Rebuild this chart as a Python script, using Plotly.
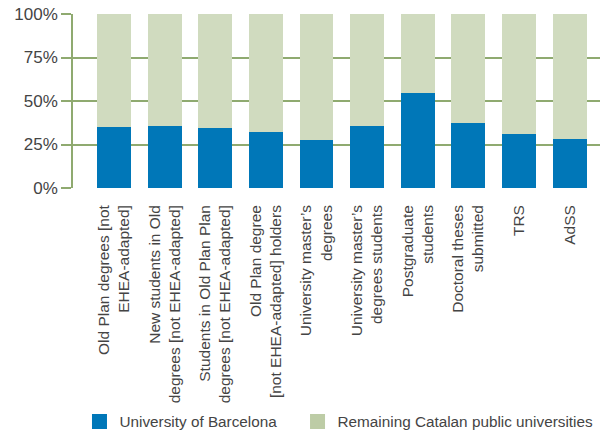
import plotly.graph_objects as go

categories = [
    "Old Plan degrees [not<br>EHEA-adapted]",
    "New students in Old<br>degrees [not EHEA-adapted]",
    "Students in Old Plan Plan<br>degrees [not EHEA-adapted]",
    "Old Plan degree<br>[not EHEA-adapted] holders",
    "University master’s<br>degrees",
    "University master’s<br>degrees students",
    "Postgraduate<br>students",
    "Doctoral theses<br>submitted",
    "TRS",
    "AdSS",
]
ub_share = [35.2, 35.8, 34.7, 32.0, 27.6, 35.6, 54.6, 37.4, 31.0, 28.2]
rest_share = [100 - v for v in ub_share]
series_names = ["University of Barcelona", "Remaining Catalan public universities"]
tick_vals = [0, 25, 50, 75, 100]
tick_text = ["0%", "25%", "50%", "75%", "100%"]

BLUE = "#0077B8"
LIGHT = "#D0DBBF"
LIGHT_KEY = "#BDCCA6"
GRID = "#8FAA70"
TXT = "#444444"
FONT = "Liberation Sans, Arial, sans-serif"

xs = list(range(len(categories)))
fig = go.Figure()
fig.add_trace(go.Bar(x=xs, y=ub_share, name=series_names[0],
                     marker=dict(color=BLUE, line=dict(width=0)), width=0.67,
                     showlegend=False))
fig.add_trace(go.Bar(x=xs, y=rest_share, name=series_names[1],
                     marker=dict(color=LIGHT, line=dict(width=0)), width=0.67,
                     showlegend=False))
# legend keys (larger square swatches)
fig.add_trace(go.Scatter(x=[None], y=[None], mode="markers", name=series_names[0],
                         marker=dict(symbol="square", size=15, color=BLUE),
                         legend="legend"))
fig.add_trace(go.Scatter(x=[None], y=[None], mode="markers", name=series_names[1],
                         marker=dict(symbol="square", size=15, color=LIGHT_KEY),
                         legend="legend2"))

leg_common = dict(orientation="h", xref="container", yref="container",
                  xanchor="left", yanchor="top", itemsizing="trace",
                  font=dict(size=15.3, color=TXT, family=FONT),
                  itemclick=False, bgcolor="rgba(0,0,0,0)")

fig.update_layout(
    width=604, height=435,
    margin=dict(l=73, r=4, t=14, b=247, autoexpand=False),
    barmode="stack",
    plot_bgcolor="white", paper_bgcolor="white",
    font=dict(family=FONT, color=TXT),
    showlegend=True,
    legend=dict(x=0.1316, y=0.069, **leg_common),
    legend2=dict(x=0.4926, y=0.069, **leg_common),
)
fig.update_xaxes(
    tickmode="array", tickvals=xs, ticktext=categories,
    tickangle=-90, range=[-0.81, 9.6], showgrid=False, zeroline=False,
    showline=False, ticks="", tickfont=dict(size=15.5, color=TXT),
    ticklabelstandoff=13, automargin=False,
)
fig.update_yaxes(
    range=[0, 100], tickvals=tick_vals, ticktext=tick_text,
    showgrid=True, gridcolor=GRID, gridwidth=1.5, zeroline=False,
    showline=True, linecolor=GRID, linewidth=1.5,
    ticks="outside", ticklen=10, tickcolor=GRID, tickwidth=1.5,
    tickfont=dict(size=17, color=TXT), automargin=False,
)

fig.write_html("out.html", config={"displayModeBar": False},
               post_script="document.body.style.margin='0';")
